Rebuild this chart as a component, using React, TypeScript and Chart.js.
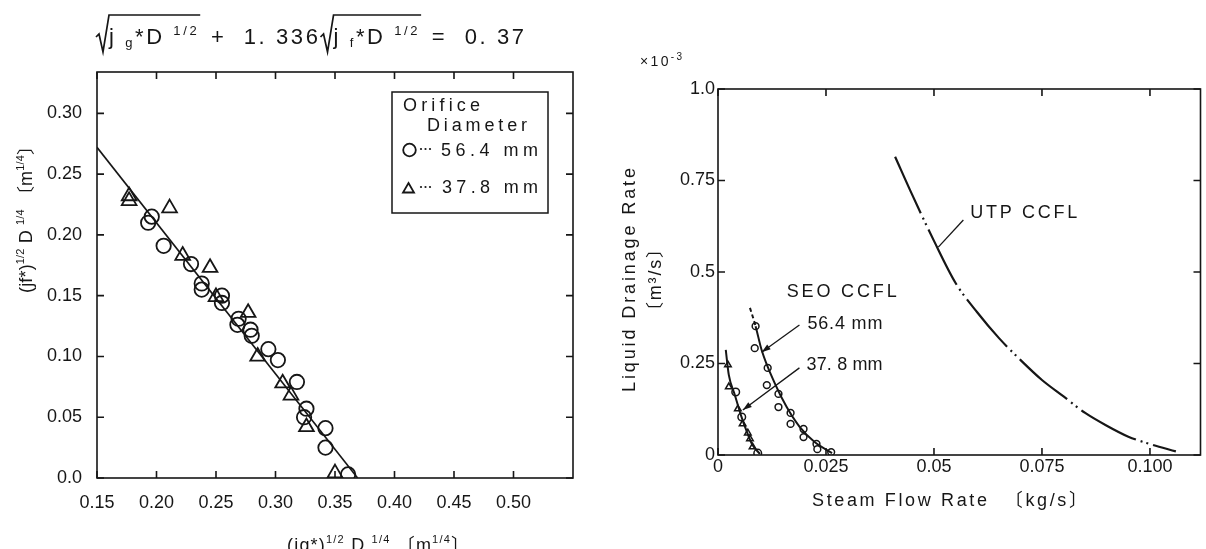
import React, { useEffect, useRef } from "react";
import { Chart, registerables } from "chart.js";

Chart.register(...registerables);

const FONT = "'Liberation Sans', 'Noto Sans CJK JP', sans-serif";
const INK = "#161616";

// ---------- left panel: (jg*)^1/2 D^1/4 vs (jf*)^1/2 D^1/4 ----------
const leftXTicks = [0.15, 0.2, 0.25, 0.3, 0.35, 0.4, 0.45, 0.5];
const leftXTickLabels = ["0.15", "0.20", "0.25", "0.30", "0.35", "0.40", "0.45", "0.50"];
const leftYTicks = [0, 0.05, 0.1, 0.15, 0.2, 0.25, 0.3];
const leftYTickLabels = ["0.0", "0.05", "0.10", "0.15", "0.20", "0.25", "0.30"];

// orifice diameter 56.4 mm (circles)
const orifice564X = [0.193, 0.196, 0.206, 0.229, 0.238, 0.238, 0.255, 0.255, 0.268, 0.269, 0.279, 0.28, 0.294, 0.302, 0.318, 0.324, 0.326, 0.342, 0.342, 0.361];
const orifice564Y = [0.21, 0.215, 0.191, 0.176, 0.16, 0.155, 0.15, 0.144, 0.126, 0.131, 0.122, 0.117, 0.106, 0.097, 0.079, 0.05, 0.057, 0.041, 0.025, 0.003];
// orifice diameter 37.8 mm (triangles)
const orifice378X = [0.177, 0.177, 0.211, 0.222, 0.245, 0.25, 0.277, 0.285, 0.306, 0.313, 0.326, 0.35];
const orifice378Y = [0.232, 0.228, 0.222, 0.183, 0.173, 0.149, 0.136, 0.1, 0.078, 0.068, 0.042, 0.004];
// correlation line
const correlationX = [0.15, 0.369];
const correlationY = [0.272, 0];

// ---------- right panel: steam flow rate vs liquid drainage rate (x10^-3 m3/s) ----------
const rightXTicks = [0, 0.025, 0.05, 0.075, 0.1];
const rightXTickLabels = ["0", "0.025", "0.05", "0.075", "0.100"];
const rightYTicks = [0, 0.25, 0.5, 0.75, 1.0];
const rightYTickLabels = ["0", "0.25", "0.5", "0.75", "1.0"];

const seo564PointX = [0.0087, 0.0085, 0.0115, 0.0113, 0.014, 0.014, 0.0168, 0.0168, 0.0198, 0.0198, 0.0228, 0.023, 0.0262];
const seo564PointY = [0.352, 0.292, 0.238, 0.191, 0.167, 0.131, 0.115, 0.085, 0.071, 0.049, 0.03, 0.016, 0.008];
const seo564CurveX = [0.0074, 0.0087, 0.0101, 0.0131, 0.0159, 0.0189, 0.0223, 0.0264];
const seo564CurveY = [0.402, 0.352, 0.287, 0.197, 0.131, 0.077, 0.036, 0.005];

const seo378PointX = [0.0023, 0.0025, 0.0041, 0.0046, 0.0055, 0.0057, 0.0069, 0.0074, 0.008, 0.0092];
const seo378PointY = [0.246, 0.186, 0.172, 0.126, 0.104, 0.085, 0.06, 0.044, 0.022, 0.005];
const seo378Marker = ["triangle", "triangle", "circle", "triangle", "circle", "triangle", "triangle", "triangle", "triangle", "circle"];
const seo378CurveX = [0.0018, 0.0025, 0.0039, 0.0053, 0.0067, 0.008, 0.0097];
const seo378CurveY = [0.287, 0.219, 0.164, 0.109, 0.063, 0.027, 0.003];

const utpX = [0.041, 0.045, 0.05, 0.055, 0.06, 0.065, 0.07, 0.075, 0.08, 0.085, 0.09, 0.095, 0.1, 0.106];
const utpY = [0.815, 0.71, 0.585, 0.47, 0.39, 0.32, 0.26, 0.205, 0.16, 0.115, 0.08, 0.05, 0.03, 0.01];

const pts = (xs: number[], ys: number[]) => xs.map((x, i) => ({ x, y: ys[i] }));

type Run = { t: string; size: number; dy?: number };

// draws text runs char by char, spreading the letters to a given width
function drawRuns(ctx: CanvasRenderingContext2D, runs: Run[], x: number, y: number, width: number) {
  let natural = 0;
  let count = 0;
  for (const r of runs) {
    ctx.font = `${r.size}px ${FONT}`;
    for (const ch of Array.from(r.t)) {
      natural += ctx.measureText(ch).width;
      count++;
    }
  }
  const gap = count > 1 ? (width - natural) / (count - 1) : 0;
  let cx = x;
  for (const r of runs) {
    ctx.font = `${r.size}px ${FONT}`;
    for (const ch of Array.from(r.t)) {
      ctx.fillText(ch, cx, y + (r.dy ?? 0));
      cx += ctx.measureText(ch).width + gap;
    }
  }
}

function drawRunsUp(ctx: CanvasRenderingContext2D, runs: Run[], bx: number, cy: number, width: number) {
  ctx.save();
  ctx.translate(bx, cy);
  ctx.rotate(-Math.PI / 2);
  drawRuns(ctx, runs, -width / 2, 0, width);
  ctx.restore();
}

type Piece = Run | { radical: "open" | "close" };

function drawFormula(ctx: CanvasRenderingContext2D, pieces: Piece[], x: number, base: number, over: number, width: number) {
  const RAD = 13;
  let natural = 0;
  let count = 0;
  for (const p of pieces) {
    if ("radical" in p) {
      natural += p.radical === "open" ? RAD : 3;
      continue;
    }
    ctx.font = `${p.size}px ${FONT}`;
    for (const ch of Array.from(p.t)) {
      natural += ctx.measureText(ch).width;
      count++;
    }
  }
  const gap = (width - natural) / (count - 1);
  let cx = x;
  let path: [number, number][] = [];
  ctx.lineWidth = 1.7;
  ctx.strokeStyle = INK;
  for (const p of pieces) {
    if ("radical" in p) {
      if (p.radical === "open") {
        path = [[cx, base - 7], [cx + 3, base - 10], [cx + 7, base + 8], [cx + RAD, over]];
        cx += RAD;
      } else {
        path.push([cx + 1, over]);
        ctx.beginPath();
        path.forEach(([px, py], i) => (i ? ctx.lineTo(px, py) : ctx.moveTo(px, py)));
        ctx.stroke();
        cx += 3;
      }
      continue;
    }
    ctx.font = `${p.size}px ${FONT}`;
    for (const ch of Array.from(p.t)) {
      ctx.fillText(ch, cx, base + (p.dy ?? 0));
      cx += ctx.measureText(ch).width + gap;
    }
  }
}

// plot frame with inward tick marks on all four sides
const frameTicks = {
  id: "frameTicks",
  afterDatasetsDraw(chart: any) {
    const { ctx, chartArea: a, scales } = chart;
    const len = 7;
    ctx.save();
    ctx.strokeStyle = INK;
    ctx.lineWidth = 1.6;
    ctx.strokeRect(a.left, a.top, a.right - a.left, a.bottom - a.top);
    ctx.beginPath();
    for (const t of scales.x.ticks) {
      const p = scales.x.getPixelForValue(t.value);
      ctx.moveTo(p, a.bottom);
      ctx.lineTo(p, a.bottom - len);
      ctx.moveTo(p, a.top);
      ctx.lineTo(p, a.top + len);
    }
    for (const t of scales.y.ticks) {
      const p = scales.y.getPixelForValue(t.value);
      ctx.moveTo(a.left, p);
      ctx.lineTo(a.left + len, p);
      ctx.moveTo(a.right, p);
      ctx.lineTo(a.right - len, p);
    }
    ctx.stroke();
    ctx.restore();
  },
};

function midDots(ctx: CanvasRenderingContext2D, x: number, y: number) {
  for (let i = 0; i < 3; i++) {
    ctx.beginPath();
    ctx.arc(x + i * 4.5, y, 1.1, 0, Math.PI * 2);
    ctx.fill();
  }
}

const leftText = {
  id: "leftText",
  afterDraw(chart: any) {
    const ctx: CanvasRenderingContext2D = chart.ctx;
    ctx.save();
    ctx.fillStyle = INK;
    ctx.textBaseline = "alphabetic";
    drawFormula(
      ctx,
      [
        { radical: "open" },
        { t: "j ", size: 22 },
        { t: "g", size: 13, dy: 3 },
        { t: "*D ", size: 22 },
        { t: "1/2", size: 13, dy: -9 },
        { radical: "close" },
        { t: " +  1. 336", size: 22 },
        { radical: "open" },
        { t: "j ", size: 22 },
        { t: "f", size: 13, dy: 3 },
        { t: "*D ", size: 22 },
        { t: "1/2", size: 13, dy: -9 },
        { radical: "close" },
        { t: " =  0. 37", size: 22 },
      ],
      96,
      44,
      15,
      428
    );

    // axis titles
    drawRunsUp(
      ctx,
      [
        { t: "(jf*)", size: 18 },
        { t: "1/2", size: 11, dy: -8 },
        { t: " D ", size: 18 },
        { t: "1/4", size: 11, dy: -8 },
        { t: " 〔m", size: 18 },
        { t: "1/4", size: 11, dy: -8 },
        { t: "〕", size: 18 },
      ],
      32,
      215,
      156
    );
    drawRuns(
      ctx,
      [
        { t: "(jg*)", size: 18 },
        { t: "1/2", size: 11, dy: -8 },
        { t: " D ", size: 18 },
        { t: "1/4", size: 11, dy: -8 },
        { t: " 〔m", size: 18 },
        { t: "1/4", size: 11, dy: -8 },
        { t: "〕", size: 18 },
      ],
      287,
      551,
      182
    );

    // legend
    ctx.strokeStyle = INK;
    ctx.lineWidth = 1.5;
    ctx.strokeRect(392, 92, 156, 121);
    drawRuns(ctx, [{ t: "Orifice", size: 18 }], 403, 111, 77);
    drawRuns(ctx, [{ t: "Diameter", size: 18 }], 427, 131, 100);
    ctx.lineWidth = 1.8;
    ctx.beginPath();
    ctx.arc(409.5, 150, 6.3, 0, Math.PI * 2);
    ctx.stroke();
    ctx.beginPath();
    ctx.moveTo(408.5, 183);
    ctx.lineTo(414, 192.5);
    ctx.lineTo(403, 192.5);
    ctx.closePath();
    ctx.stroke();
    midDots(ctx, 421, 149);
    midDots(ctx, 421, 187);
    drawRuns(ctx, [{ t: "56.4 mm", size: 18 }], 441, 156, 97);
    drawRuns(ctx, [{ t: "37.8 mm", size: 18 }], 442, 193, 96);
    ctx.restore();
  },
};

// annotation anchors for the right panel (data units)
const seoLabel = { x: 0.0159, y: 0.445 };
const utpLabel = { x: 0.0584, y: 0.66 };
const label564 = { x: 0.0207, y: 0.358 };
const label378 = { x: 0.0205, y: 0.246 };
const leader564 = { x0: 0.01885, y0: 0.355, x1: 0.0101, y1: 0.281 };
const leader378 = { x0: 0.01885, y0: 0.238, x1: 0.00575, y1: 0.123 };
const leaderUtp = { x0: 0.0568, y0: 0.642, x1: 0.051, y1: 0.568 };

function leader(ctx: CanvasRenderingContext2D, x0: number, y0: number, x1: number, y1: number, head: boolean) {
  ctx.beginPath();
  ctx.moveTo(x0, y0);
  ctx.lineTo(x1, y1);
  ctx.stroke();
  if (!head) return;
  const a = Math.atan2(y1 - y0, x1 - x0);
  const L = 9;
  const W = 3;
  ctx.beginPath();
  ctx.moveTo(x1, y1);
  ctx.lineTo(x1 - L * Math.cos(a) + W * Math.sin(a), y1 - L * Math.sin(a) - W * Math.cos(a));
  ctx.lineTo(x1 - L * Math.cos(a) - W * Math.sin(a), y1 - L * Math.sin(a) + W * Math.cos(a));
  ctx.closePath();
  ctx.fill();
}

const rightText = {
  id: "rightText",
  afterDraw(chart: any) {
    const ctx: CanvasRenderingContext2D = chart.ctx;
    const sx = chart.scales.x;
    const sy = chart.scales.y;
    const X = (v: number) => sx.getPixelForValue(v);
    const Y = (v: number) => sy.getPixelForValue(v);
    ctx.save();
    ctx.fillStyle = INK;
    ctx.strokeStyle = INK;
    ctx.textBaseline = "alphabetic";

    drawRuns(ctx, [{ t: "×10", size: 14 }, { t: "-3", size: 10, dy: -6 }], 40, 66, 42);
    drawRunsUp(ctx, [{ t: "Liquid Drainage Rate", size: 18 }], 35, 280, 224);
    drawRunsUp(ctx, [{ t: "〔m³/s〕", size: 18 }], 61, 280, 80);
    drawRuns(ctx, [{ t: "Steam Flow Rate  〔kg/s〕", size: 18 }], 212, 506, 275);

    ctx.textBaseline = "middle";
    drawRuns(ctx, [{ t: "SEO CCFL", size: 18 }], X(seoLabel.x), Y(seoLabel.y), 110);
    drawRuns(ctx, [{ t: "UTP CCFL", size: 18 }], X(utpLabel.x), Y(utpLabel.y), 107);
    drawRuns(ctx, [{ t: "56.4 mm", size: 18 }], X(label564.x), Y(label564.y), 75);
    drawRuns(ctx, [{ t: "37. 8 mm", size: 18 }], X(label378.x), Y(label378.y), 76);

    ctx.lineWidth = 1.3;
    leader(ctx, X(leader564.x0), Y(leader564.y0), X(leader564.x1), Y(leader564.y1), true);
    leader(ctx, X(leader378.x0), Y(leader378.y0), X(leader378.x1), Y(leader378.y1), true);
    leader(ctx, X(leaderUtp.x0), Y(leaderUtp.y0), X(leaderUtp.x1), Y(leaderUtp.y1), false);
    ctx.restore();
  },
};

const tickFont = { family: FONT, size: 18 };

function axis(min: number, max: number, values: number[], labels: string[], pad: number, size: number, horizontal: boolean) {
  return {
    type: "linear" as const,
    min,
    max,
    grid: { display: false, drawTicks: false },
    border: { display: false },
    afterBuildTicks: (s: any) => {
      s.ticks = values.map((v) => ({ value: v }));
    },
    afterFit: (s: any) => {
      if (horizontal) s.height = size;
      else s.width = size;
    },
    ticks: {
      autoSkip: false,
      maxRotation: 0,
      padding: pad,
      color: INK,
      font: tickFont,
      callback: (_v: any, i: number) => labels[i],
    },
  };
}

export default function App() {
  const leftRef = useRef<HTMLCanvasElement>(null);
  const rightRef = useRef<HTMLCanvasElement>(null);

  useEffect(() => {
    const left = new Chart(leftRef.current!, {
      type: "scatter",
      data: {
        datasets: [
          {
            data: pts(correlationX, correlationY),
            showLine: true,
            borderColor: INK,
            borderWidth: 1.6,
            pointRadius: 0,
          },
          {
            data: pts(orifice564X, orifice564Y),
            pointStyle: "circle",
            pointRadius: 7.2,
            borderWidth: 1.8,
            borderColor: INK,
            backgroundColor: "rgba(0,0,0,0)",
          },
          {
            data: pts(orifice378X, orifice378Y),
            pointStyle: "triangle",
            pointRadius: 8.5,
            borderWidth: 1.8,
            borderColor: INK,
            backgroundColor: "rgba(0,0,0,0)",
          },
        ],
      },
      options: {
        responsive: false,
        animation: false,
        events: [],
        layout: { padding: { left: 0, top: 72, right: 27, bottom: 0 } },
        plugins: { legend: { display: false }, tooltip: { enabled: false } },
        scales: {
          x: axis(0.15, 0.55, leftXTicks, leftXTickLabels, 14, 71, true),
          y: axis(0, 0.334, leftYTicks, leftYTickLabels, 15, 97, false),
        },
      },
      plugins: [frameTicks, leftText],
    });

    const right = new Chart(rightRef.current!, {
      type: "scatter",
      data: {
        datasets: [
          {
            data: pts(utpX, utpY),
            showLine: true,
            borderColor: INK,
            borderWidth: 2.2,
            borderDash: [62, 5, 2, 4, 2, 5],
            cubicInterpolationMode: "monotone",
            pointRadius: 0,
          },
          {
            data: pts(seo564CurveX, seo564CurveY),
            showLine: true,
            borderColor: INK,
            borderWidth: 2,
            cubicInterpolationMode: "monotone",
            pointRadius: 0,
            segment: { borderDash: (c: any) => (c.p0DataIndex === 0 ? [4, 3] : undefined) },
          },
          {
            data: pts(seo378CurveX, seo378CurveY),
            showLine: true,
            borderColor: INK,
            borderWidth: 2,
            cubicInterpolationMode: "monotone",
            pointRadius: 0,
          },
          {
            data: pts(seo564PointX, seo564PointY),
            pointStyle: "circle",
            pointRadius: 3.4,
            borderWidth: 1.5,
            borderColor: INK,
            backgroundColor: "#fff",
          },
          {
            data: pts(seo378PointX, seo378PointY),
            pointStyle: seo378Marker as any,
            pointRadius: 3.8,
            borderWidth: 1.5,
            borderColor: INK,
            backgroundColor: "#fff",
          },
        ],
      },
      options: {
        responsive: false,
        animation: false,
        events: [],
        layout: { padding: { left: 0, top: 89, right: 2, bottom: 0 } },
        plugins: { legend: { display: false }, tooltip: { enabled: false } },
        scales: {
          x: axis(0, 0.1117, rightXTicks, rightXTickLabels, 1, 94, true),
          y: axis(0, 1.0, rightYTicks, rightYTickLabels, 3, 118, false),
        },
      },
      plugins: [frameTicks, rightText],
    });

    return () => {
      left.destroy();
      right.destroy();
    };
  }, []);

  return (
    <div style={{ position: "absolute", left: 0, top: 0, width: 1206, height: 549, background: "#fff", overflow: "hidden" }}>
      <canvas ref={leftRef} width={600} height={549} style={{ position: "absolute", left: 0, top: 0, width: 600, height: 549 }} />
      <canvas ref={rightRef} width={606} height={549} style={{ position: "absolute", left: 600, top: 0, width: 606, height: 549 }} />
    </div>
  );
}
